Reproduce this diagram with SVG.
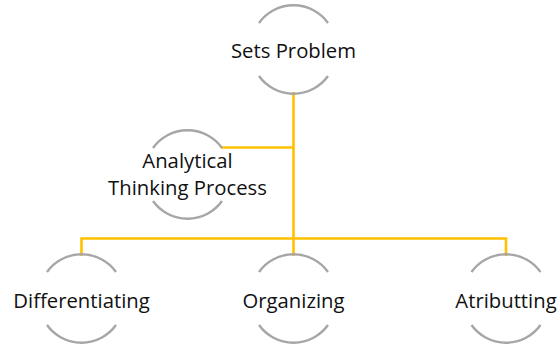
<svg xmlns="http://www.w3.org/2000/svg" width="560" height="345" viewBox="0 0 560 345">
<style>
.arc{fill:none;stroke:#A6A6A6;stroke-width:2.4}
.con{fill:none;stroke:#FFC000;stroke-width:2.6;stroke-linejoin:miter}
.lbl{font-family:"Open Sans","Liberation Sans",sans-serif;font-size:20.3px;fill:#111;text-anchor:middle}
</style>
<rect width="560" height="345" fill="#fff"/>
<g id="connectors">
<path class="con" d="M293.5 92 V256"/>
<path class="con" d="M221 147.5 H293.5"/>
<path class="con" d="M81.5 256 V238.5 H506 V256"/>
</g>
<g id="sets-problem">
<path class="arc" d="M259 23 A42.5 42.5 0 0 1 328 23"/>
<path class="arc" d="M259 76 A42.5 42.5 0 0 0 328 76"/>
<text class="lbl" x="293.5" y="58">Sets Problem</text>
</g>
<g id="analytical">
<path class="arc" d="M153 148 A42.5 42.5 0 0 1 222 148"/>
<path class="arc" d="M153 201 A42.5 42.5 0 0 0 222 201"/>
<text class="lbl" x="187.5" y="168">Analytical</text>
<text class="lbl" x="187.5" y="195">Thinking Process</text>
</g>
<g id="differentiating">
<path class="arc" d="M47 272 A42.5 42.5 0 0 1 116 272"/>
<path class="arc" d="M47 325 A42.5 42.5 0 0 0 116 325"/>
<text class="lbl" x="81.5" y="308">Differentiating</text>
</g>
<g id="organizing">
<path class="arc" d="M259 272 A42.5 42.5 0 0 1 328 272"/>
<path class="arc" d="M259 325 A42.5 42.5 0 0 0 328 325"/>
<text class="lbl" x="293.5" y="308">Organizing</text>
</g>
<g id="atributting">
<path class="arc" d="M471.5 272 A42.5 42.5 0 0 1 540.5 272"/>
<path class="arc" d="M471.5 325 A42.5 42.5 0 0 0 540.5 325"/>
<text class="lbl" x="506" y="308">Atributting</text>
</g>
</svg>
